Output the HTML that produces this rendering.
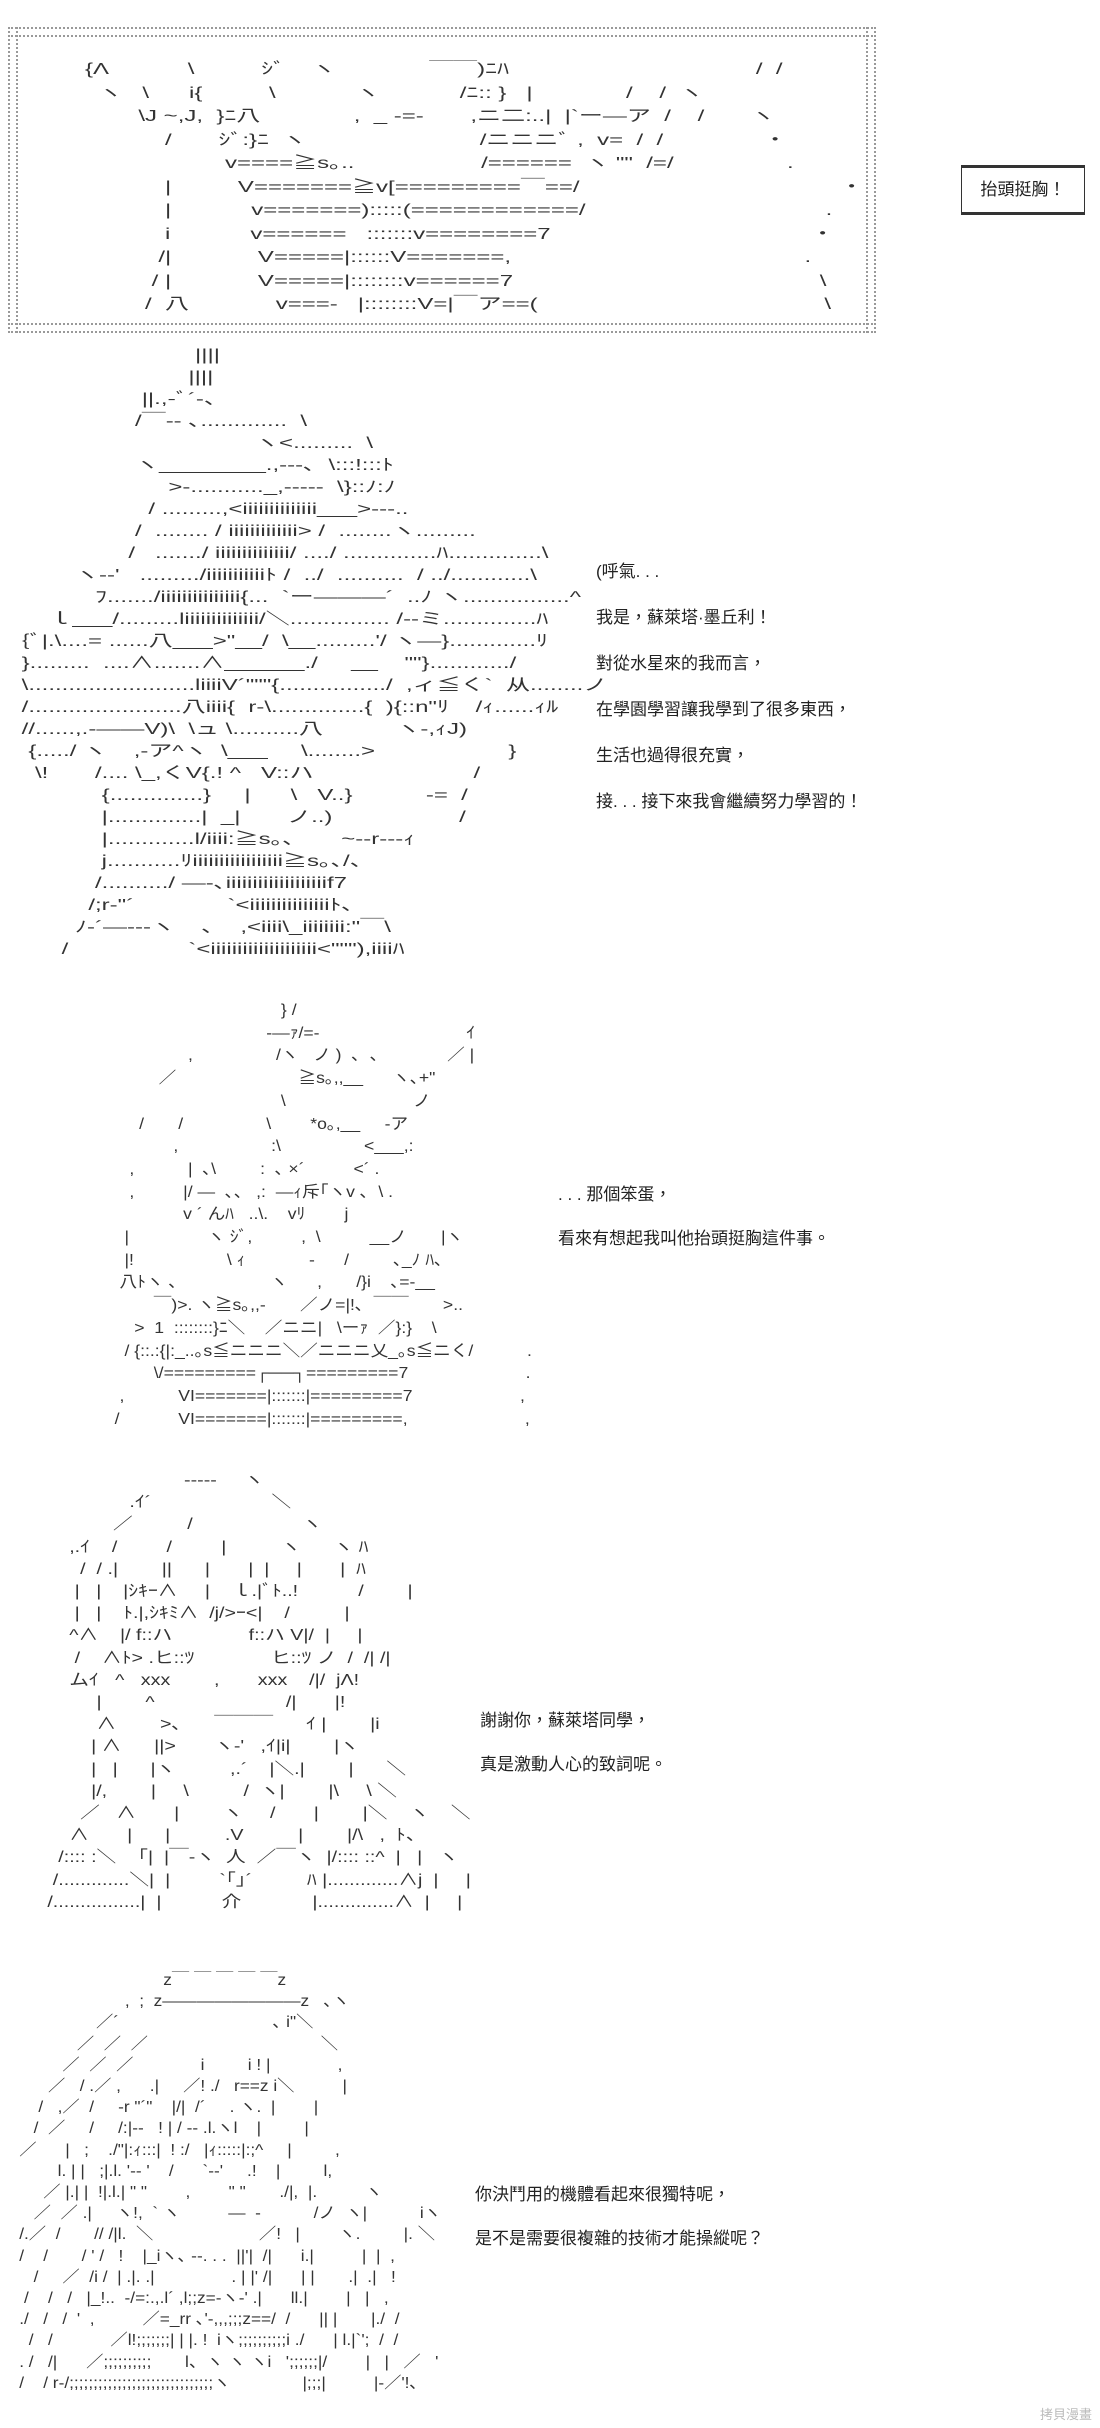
<!DOCTYPE html>
<html><head><meta charset="utf-8">
<style>
html{margin:0;padding:0;width:1100px;height:2428px;overflow:hidden;background:#fff;}
body{margin:0;padding:0;background:#fff;width:1100px;height:2428px;position:relative;overflow:hidden;color:#222;}
pre{position:absolute;margin:0;font-family:"Liberation Sans","Noto Sans CJK JP",sans-serif;font-size:16px;line-height:18.6px;white-space:pre;color:#333;transform-origin:0 0;}
.t{position:absolute;font-family:"Liberation Sans","Noto Sans CJK TC",sans-serif;font-size:17px;color:#222;white-space:nowrap;}
.box{position:absolute;left:8px;top:27px;width:868px;height:306px;}
.dots{position:absolute;left:0;right:0;height:0;border-top:2px dotted #999;}
.vd{position:absolute;top:0;bottom:0;width:0;border-left:2px dotted #999;}
.lbl{position:absolute;left:961px;top:165px;width:122px;height:44px;border:1px solid #333;border-top:3px solid #333;border-bottom:3px solid #333;font-family:"Liberation Sans","Noto Sans CJK TC",sans-serif;font-size:17px;line-height:44px;text-align:center;}
</style></head><body>
<div class="box">
<div class="dots" style="top:0"></div><div class="dots" style="top:8px"></div>
<div class="dots" style="bottom:8px"></div><div class="dots" style="bottom:0"></div>
<div class="vd" style="left:0"></div><div class="vd" style="left:8px"></div>
<div class="vd" style="right:0"></div><div class="vd" style="right:8px"></div>
</div>
<pre style="left:85px;top:58px;line-height:23.5px;transform:scaleX(1.5)">{Λ            \          ｼﾞ    ヽ              ￣￣)ﾆﾊ                                     /  /
  ヽ   \      i{          \            ヽ            /ﾆ:: }   |              /    /  ヽ
        \J ~,J,  }ﾆ八              ,  _ -=-       ,ニ二:..|  |`ー―ア  /    /       ヽ
            /       ｼﾞ:}ﾆ  ヽ                          /ニニニﾞ ,  v=  /  /               ・
                     v====≧s｡..                   /======  ヽ ""  /=/                 .
            |          V=======≧v[=========￣==/                                       ・
            |            v=======):::::(============/                                    .
            i            v======   :::::::v========7                                       ・
           /|             V=====|::::::V=======,                                            .
          / |             V=====|::::::::v======7                                              \
         /  八             v===-   |::::::::V=|￣ア==(                                           \</pre>
<div class="lbl">抬頭挺胸！</div>

<pre style="left:15px;top:345px;line-height:22px;transform:scaleX(1.5)">                           ||||
                          ||||
                   ||.,-ﾞ´-、
                  /￣‐- ､.............  \
                                    ヽ&lt;.........  \
                  ヽ________.,-‐-､  \:::!:::ﾄ
                       &gt;-..........._,-‐-‐-  \}::ﾉ:ﾉ
                    / .........,&lt;iiiiiiiiiiiiii___&gt;-‐-..
                  /  ........ / iiiiiiiiiiiii&gt; /  ........ヽ.........
                 /   ......./ iiiiiiiiiiiiii/ ..../ ..............ﾊ..............\
         ヽ--'   ........./iiiiiiiiiiiﾄ /  ../  ..........  / ../............\
            ﾌ......./iiiiiiiiiiiiiii{...  `ー―――´  ..ﾉ ヽ................^
     ｌ___/.........liiiiiiiiiiiiii/＼............... /‐‐ミ..............ﾊ
 {ﾞ|.\....= ......八___&gt;"__/  \__.........'/ ヽ―}.............ﾘ
 }.........  ....∧.......∧______./     __    ""}............/
 \.........................liiiiV´"""{................/  ,ィ≦く`  从........ノ
 /.......................八iiii{  r‐\..............{  ){::n"ﾘ    /ｨ......ｨﾙ
 //......,.-――V)\  \ュ \..........八           ヽ-,ｨJ)
  {...../ ヽ    ,-ア^ヽ  \___     \........&gt;                    }
   \!       /.... \_,くV{.! ^   V::ハ                        /
             {..............}     |      \   V..}           -=  /
             |..............|  _|       ノ..)                   /
             |.............l/iiii:≧s｡､       ~--r---ｨ
             j...........ﾘiiiiiiiiiiiiiiiii≧s｡､/、
            /........../ ―-､iiiiiiiiiiiiiiiiiiif7
           /;r‐"´              `&lt;iiiiiiiiiiiiiiiﾄ､
         ﾉ-´―‐-‐ヽ    ､    ,&lt;iiii\_iiiiiiii:"￣\
       /                  `&lt;iiiiiiiiiiiiiiiiiiii&lt;"""),iiiiﾊ</pre>
<div class="t" style="left:596px;top:557px">(呼氣. . .</div>
<div class="t" style="left:596px;top:603px">我是，蘇萊塔·墨丘利！</div>
<div class="t" style="left:596px;top:649px">對從水星來的我而言，</div>
<div class="t" style="left:596px;top:695px">在學園學習讓我學到了很多東西，</div>
<div class="t" style="left:596px;top:741px">生活也過得很充實，</div>
<div class="t" style="left:596px;top:787px">接. . . 接下來我會繼續努力學習的！</div>

<pre style="left:100px;top:1000px;line-height:22.7px;transform:scaleX(1.1)">                                     } /
                                  -―ｧ/=-                              ｲ
                  ,                 /ヽ   ノ )  ､  ､              ／ |
            ／                         ≧s｡,,__      ヽ､+"     
                                     \                          ノ
        /       /                 \        *o｡,__     ‐ア
               ,                   :\                 &lt;___,:
      ,           |  ､\         :  ､ ×´          &lt;´ .
      ,          |/ ―  ､、 ,:  ―ｨ斥｢ヽv ､  \ .
                 v ´ んﾊ   ..\.    vﾘ        j
     |                ヽ ｼﾞ,          ,  \          __ノ       |ヽ
     |!                   \ ｨ             -      /         ､_ﾉ ﾊ､
    八ﾄヽ ､                   ヽ      ,       /}i    ､=-__
           ￣)&gt;. ヽ≧s｡,,-       ／ノ=|!､  ￣￣       &gt;..
       &gt;  1  ::::::::}ﾆ＼    ／ニニ|   \ーｧ  ／}:}    \
     / {::.:{|:_..｡s≦ニニニ＼／ニニニ乂_｡s≦ニく/           .
           \/=========┌──┐=========7                        .
    ,           VI=======|:::::::|=========7                      ,
   /            VI=======|:::::::|=========,                        ,</pre>
<div class="t" style="left:558px;top:1180px">. . . 那個笨蛋，</div>
<div class="t" style="left:558px;top:1224px">看來有想起我叫他抬頭挺胸這件事。</div>

<pre style="left:20px;top:1470px;line-height:22.2px;transform:scaleX(1.23)">                              ‐‐‐‐‐     ヽ
                    .ｲ´                      ＼
                 ／          /                    ヽ
         ,.ｲ    /         /         |          ヽ      ヽ ﾊ
           /  / .|        ||      |       |  |     |       |  ﾊ
          |   |    |ｼｷｰ∧     |    ｌ.|ﾞﾄ..!           /        |
          |   |    ﾄ.|,ｼｷﾐ∧  /j/&gt;ｰ&lt;|    /          |
         ^∧    |/ f::ハ              f::ハ V|/  |     |
          /    ∧ﾄ&gt; .ヒ::ﾂ              ヒ::ﾂ ノ  /  /| /|
         ムｲ   ^   xxx        ,       xxx    /|/  jΛ!
              |        ^                        /|       |!
              ∧        &gt;､      ￣￣￣      ｲ |        |i
             | ∧      ||&gt;       ヽ‐'   ,ｲ|i|        |ヽ
             |   |      |ヽ          ,.´    |＼.|        |      ＼
             |/,        |     \          /  ヽ|        |\     \ ＼
           ／   ∧       |        ヽ     /       |        |＼    ヽ    ＼
         ∧       |      |          .V          |        |/\   ,  ﾄ、
       /:::: :＼    ｢|  |￣‐ヽ  人  ／￣ヽ  |/:::: ::^  |   |   ヽ
      /.............＼|  |         `｢｣´          ﾊ |.............∧j  |     |
     /................|  |           介             |..............∧  |     |</pre>
<div class="t" style="left:480px;top:1706px">謝謝你，蘇萊塔同學，</div>
<div class="t" style="left:480px;top:1750px">真是激動人心的致詞呢。</div>

<pre style="left:0px;top:1970px;line-height:21.2px;transform:scaleX(1.08)">                                  z￣ ￣ ￣ ￣ ￣z
                          ,  ;  z――――――――z   ､ヽ
                    ／´                                ､ i"＼
                ／  ／  ／                                    ＼ 
             ／  ／  ／              i         i ! |              ,
          ／   / .／ ,      .|     ／! ./   r==z i＼          |
        /   ,／  /     ‐r "´"    |/|  /´     . ヽ.  |        |
       /  ／     /     /:|‐‐   ! | / ‐‐ .l.ヽl    |         |
    ／      |   ;    ./"|:ｨ:::|  ! :/   |ｨ:::::|:;^     |         ,
            l. | |   ;|.l. '‐‐ '    /      `‐‐'     .!    |         l,
         ／ |.| |  !|.l.| " "        ,        " "       ./|,  |.          ヽ
       ／  ／ .|     ヽ!,  ` ヽ          ―  ‐           /ノ  ヽ|           iヽ
    /.／  /       // /|l.  ＼                      ／!   |        ヽ.         |. ＼
    /    /       / ' /   !    |_iヽ､ ‐‐. . .  ||'|  /|      i.|          |  |  ,
       /     ／  /i /  | .|. .|                . | |' /|      | |       .|  .|   !
     /    /   /   |_!..  ‐/=:.,.l´ ,l;;z=‐ヽ‐' .|      ll.|        |   |   ,
    ./   /   /  '  ,          ／=_rr ､'‐,,,;;;z==/  /      || |       |./  /
      /   /            ／l!;;;;;;;| | |. !  iヽ;;;;;;;;;;i ./      | l.|`';  /  /
    . /   /|      ／;;;;;;;;;;       l、ヽ ヽ ヽi   ';;;;;;|/        |   |   ／   '
    /    / r‐/;;;;;;;;;;;;;;;;;;;;;;;;;;;;;;ヽ               |;;;|          |‐／'!､</pre>
<div class="t" style="left:475px;top:2180px">你決鬥用的機體看起來很獨特呢，</div>
<div class="t" style="left:475px;top:2224px">是不是需要很複雜的技術才能操縱呢？</div>

<div class="t" style="left:1040px;top:2404px;font-size:13px;color:#bbb">拷貝漫畫</div>
</body></html>
